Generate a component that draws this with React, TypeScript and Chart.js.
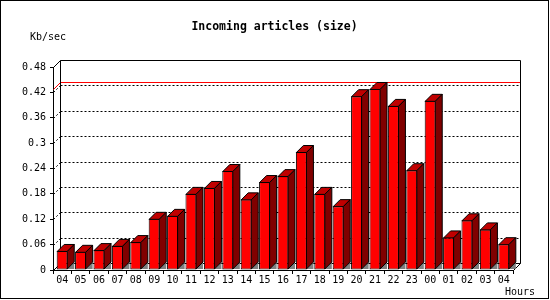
import React, { useEffect, useRef } from "react";
import { Chart, registerables } from "chart.js";

Chart.register(...registerables);

// ---- data ----
const hours = ["04", "05", "06", "07", "08", "09", "10", "11", "12", "13", "14", "15", "16", "17", "18", "19", "20", "21", "22", "23", "00", "01", "02", "03", "04"];
const sizeKbps = [0.045, 0.043, 0.047, 0.057, 0.066, 0.121, 0.128, 0.18, 0.194, 0.234, 0.167, 0.208, 0.222, 0.279, 0.18, 0.151, 0.411, 0.428, 0.388, 0.236, 0.4, 0.077, 0.1175, 0.096, 0.061];
const yTickValues = [0, 0.06, 0.12, 0.18, 0.24, 0.3, 0.36, 0.42, 0.48];
const maxLineValue = 0.428;
const titleText = "Incoming articles (size)";
const yAxisTitle = "Kb/sec";
const xAxisTitle = "Hours";

const MONO = "'DejaVu Sans Mono', 'Liberation Mono', monospace";
const DEPTH = 7;

const threeD = {
  id: "threeD",
  beforeDraw(chart: any) {
    const ctx = chart.ctx;
    ctx.save();
    ctx.fillStyle = "#ffffff";
    ctx.fillRect(0, 0, chart.width, chart.height);
    ctx.restore();
  },
  beforeDatasetsDraw(chart: any) {
    const { ctx, chartArea: a, scales } = chart;
    const y = scales.y;
    const D = DEPTH;
    const L = Math.round(a.left);
    const R = Math.round(a.right);
    const yTop = Math.round(y.getPixelForValue(y.max));
    const yBase = Math.round(y.getPixelForValue(0));
    const line = (x1: number, y1: number, x2: number, y2: number) => {
      ctx.beginPath();
      ctx.moveTo(x1, y1);
      ctx.lineTo(x2, y2);
      ctx.stroke();
    };
    ctx.save();
    ctx.lineWidth = 1;
    // dotted grid lines on left wall + back wall
    ctx.strokeStyle = "#000000";
    ctx.setLineDash([2, 2]);
    for (const v of yTickValues) {
      if (v <= 0 || v >= y.max) continue;
      const py = Math.round(y.getPixelForValue(v));
      line(L + 0.5, py + 0.5, L + D + 0.5, py - D + 0.5);
      line(L + D + 0.5, py - D + 0.5, R + D + 0.5, py - D + 0.5);
    }
    ctx.setLineDash([]);
    // max line in red
    const pm = Math.round(y.getPixelForValue(maxLineValue));
    ctx.strokeStyle = "#ff0000";
    line(L + 0.5, pm + 0.5, L + D + 0.5, pm - D + 0.5);
    line(L + D + 0.5, pm - D + 0.5, R + D + 0.5, pm - D + 0.5);
    // wall outlines
    ctx.strokeStyle = "#000000";
    line(L + 0.5, yTop + 0.5, L + D + 0.5, yTop - D + 0.5);
    line(L + D + 0.5, yTop - D + 0.5, R + D + 0.5, yTop - D + 0.5);
    line(L + D + 0.5, yTop - D + 0.5, L + D + 0.5, yBase - D + 0.5);
    line(R + D + 0.5, yTop - D + 0.5, R + D + 0.5, yBase - D + 0.5);
    line(L + D + 0.5, yBase - D + 0.5, R + D + 0.5, yBase - D + 0.5);
    line(L + 0.5, yBase + 0.5, L + D + 0.5, yBase - D + 0.5);
    line(R + 0.5, yBase + 0.5, R + D + 0.5, yBase - D + 0.5);
    ctx.restore();
  },
  afterDatasetsDraw(chart: any) {
    const ctx = chart.ctx;
    const D = DEPTH;
    const meta = chart.getDatasetMeta(0);
    const poly = (pts: number[][], fill: string, stroke: boolean) => {
      ctx.beginPath();
      ctx.moveTo(pts[0][0], pts[0][1]);
      for (let i = 1; i < pts.length; i++) ctx.lineTo(pts[i][0], pts[i][1]);
      ctx.closePath();
      ctx.fillStyle = fill;
      ctx.fill();
      if (stroke) ctx.stroke();
    };
    ctx.save();
    ctx.lineWidth = 1;
    ctx.strokeStyle = "#000000";
    meta.data.forEach((bar: any) => {
      const p = bar.getProps(["x", "y", "base", "width"], true);
      const x1 = p.x - p.width / 2 + 0.5;
      const x2 = p.x + p.width / 2 - 0.5;
      const top = p.y + 0.5;
      const base = p.base - 0.5;
      poly([[x2, base], [x2 + D, base - D], [x2 + D, base]], "#808080", false);
      poly([[x1, top], [x1 + D, top - D], [x2 + D, top - D], [x2, top]], "#c00000", true);
      poly([[x2, top], [x2 + D, top - D], [x2 + D, base - D], [x2, base]], "#800000", true);
    });
    ctx.restore();
  },
  afterDraw(chart: any) {
    const ctx = chart.ctx;
    ctx.save();
    ctx.fillStyle = "#000000";
    ctx.textBaseline = "middle";
    ctx.font = `bold 11.5px ${MONO}`;
    ctx.textAlign = "center";
    ctx.fillText(titleText, 274.5, 27);
    ctx.font = `10px ${MONO}`;
    ctx.textAlign = "left";
    ctx.fillText(yAxisTitle, 30, 37);
    ctx.fillText(xAxisTitle, 505, 292);
    ctx.strokeStyle = "#000000";
    ctx.lineWidth = 1;
    ctx.strokeRect(0.5, 0.5, 548, 298);
    ctx.restore();
  },
};

export default function App() {
  const ref = useRef<HTMLCanvasElement | null>(null);
  useEffect(() => {
    document.body.style.margin = "0";
    const canvas = ref.current;
    if (!canvas) return;
    const chart = new Chart(canvas, {
      type: "bar",
      data: {
        labels: hours,
        datasets: [
          {
            data: sizeKbps,
            backgroundColor: "#ff0000",
            borderColor: "#000000",
            borderWidth: 1,
            borderSkipped: false,
            barPercentage: 0.6,
            categoryPercentage: 1,
          },
        ],
      },
      options: {
        responsive: false,
        animation: false,
        devicePixelRatio: 1,
        events: [],
        layout: { padding: { top: 67, right: 37, left: 0, bottom: 0 } },
        plugins: {
          legend: { display: false },
          tooltip: { enabled: false },
          title: { display: false },
        },
        scales: {
          x: {
            grid: { display: true, drawOnChartArea: false, drawTicks: true, tickLength: 4, color: "#000000", offset: true },
            border: { display: true, color: "#000000" },
            ticks: { color: "#000000", font: { family: MONO, size: 10 }, padding: 0, maxRotation: 0, autoSkip: false },
            afterFit: (s: any) => {
              s.height = 30;
            },
          },
          y: {
            min: 0,
            max: 0.48,
            afterBuildTicks: (s: any) => {
              s.ticks = yTickValues.map((v) => ({ value: v }));
            },
            grid: { display: true, drawOnChartArea: false, drawTicks: true, tickLength: 3, color: "#000000" },
            border: { display: true, color: "#000000" },
            ticks: {
              color: "#000000",
              font: { family: MONO, size: 10 },
              padding: 4,
              callback: (v: any) => String(Number(Number(v).toFixed(2))),
            },
            afterFit: (s: any) => {
              s.width = 53;
            },
          },
        },
      } as any,
      plugins: [threeD],
    });
    return () => chart.destroy();
  }, []);
  return (
    <div style={{ width: 550, height: 300 }}>
      <canvas ref={ref} width={550} height={300} style={{ display: "block" }} />
    </div>
  );
}
